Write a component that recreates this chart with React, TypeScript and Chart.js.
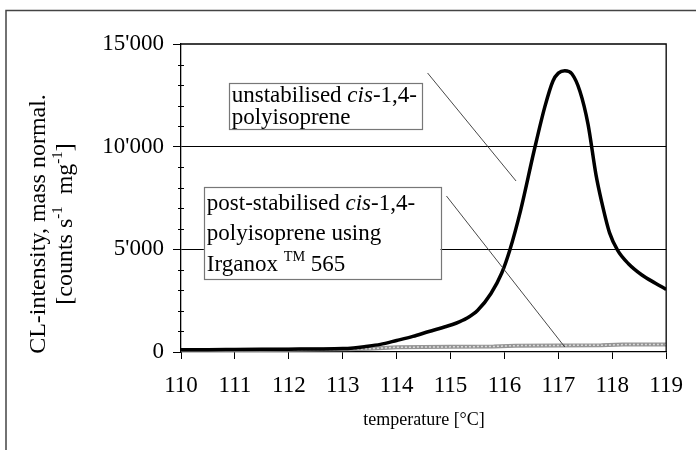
import React, { useEffect, useRef } from "react";
import { Chart, registerables } from "chart.js";

Chart.register(...registerables);

// Unstabilised cis-1,4-polyisoprene (black curve)
const tempsUnstab = [110, 110.5, 111, 111.5, 112, 112.5, 113, 113.2, 113.4, 113.7, 114, 114.3, 114.6, 114.9, 115.1, 115.3, 115.5, 115.75, 115.95, 116.1, 116.3, 116.55, 116.75, 116.9, 117.0, 117.12, 117.25, 117.4, 117.55, 117.7, 117.8, 117.95, 118.1, 118.3, 118.55, 118.8, 119.0];
const intensUnstab = [110, 110, 120, 130, 140, 150, 165, 200, 260, 370, 560, 760, 1000, 1230, 1400, 1640, 2020, 2850, 3850, 4970, 6900, 9800, 11950, 13200, 13580, 13700, 13550, 12700, 11100, 8600, 7350, 5800, 4950, 4300, 3750, 3350, 3050];

// Post-stabilised with Irganox 565 (grey curve)
const tempsStab = [110, 111, 112, 113, 113.5, 114, 115, 115.8, 116.2, 117, 117.8, 118.2, 119];
const intensStab = [90, 100, 110, 130, 160, 230, 250, 270, 310, 320, 330, 360, 370];

const xTicks = [110, 111, 112, 113, 114, 115, 116, 117, 118, 119];
const yMajorTicks = [0, 5000, 10000, 15000];

const FONT = '"Liberation Serif", "Times New Roman", serif';

type Part = { t: string; italic?: boolean; sup?: boolean };

function richWidth(ctx: CanvasRenderingContext2D, parts: Part[], size: number) {
  let w = 0;
  for (const p of parts) {
    const fs = p.sup ? size * 0.62 : size;
    ctx.font = `${p.italic ? "italic " : ""}${fs}px ${FONT}`;
    w += ctx.measureText(p.t).width;
  }
  return w;
}

function drawRich(ctx: CanvasRenderingContext2D, x: number, y: number, parts: Part[], size: number) {
  let cx = x;
  for (const p of parts) {
    const fs = p.sup ? size * 0.62 : size;
    ctx.font = `${p.italic ? "italic " : ""}${fs}px ${FONT}`;
    const dy = p.sup ? -size * 0.42 : 0;
    ctx.fillText(p.t, cx, y + dy);
    cx += ctx.measureText(p.t).width;
  }
}

const fmt = (v: number) => {
  const s = String(Math.round(v));
  return s.replace(/\B(?=(\d{3})+(?!\d))/g, "'");
};

const decorPlugin = {
  id: "decor",
  beforeDraw(chart: any) {
    const ctx = chart.ctx as CanvasRenderingContext2D;
    ctx.save();
    ctx.fillStyle = "#fff";
    ctx.fillRect(0, 0, chart.width, chart.height);
    ctx.strokeStyle = "#444";
    ctx.lineWidth = 1.5;
    ctx.beginPath();
    ctx.moveTo(6, chart.height + 5);
    ctx.lineTo(6, 10.5);
    ctx.lineTo(chart.width + 5, 10.5);
    ctx.stroke();
    ctx.restore();
  },
  afterDraw(chart: any) {
    const ctx = chart.ctx as CanvasRenderingContext2D;
    const xs = chart.scales.x;
    const ys = chart.scales.y;
    const a = chart.chartArea;
    ctx.save();
    ctx.strokeStyle = "#000";
    ctx.lineWidth = 1.3;
    ctx.beginPath();
    ctx.moveTo(a.left, a.top);
    ctx.lineTo(a.right, a.top);
    ctx.lineTo(a.right, a.bottom);
    ctx.stroke();
    ctx.lineWidth = 1;
    for (let v = ys.min; v <= ys.max; v += 1000) {
      if (v % 5000 === 0) continue;
      const py = Math.round(ys.getPixelForValue(v)) + 0.5;
      ctx.beginPath();
      ctx.moveTo(a.left - 3, py);
      ctx.lineTo(a.left + 3, py);
      ctx.stroke();
    }

    const P = (x: number, y: number) => [xs.getPixelForValue(x), ys.getPixelForValue(y)];
    ctx.strokeStyle = "#333";
    ctx.lineWidth = 0.9;
    const leaders = [
      [114.574, 13588, 116.215, 8328],
      [114.924, 7598, 117.119, 244],
    ];
    for (const l of leaders) {
      const [x1, y1] = P(l[0], l[1]);
      const [x2, y2] = P(l[2], l[3]);
      ctx.beginPath();
      ctx.moveTo(x1, y1);
      ctx.lineTo(x2, y2);
      ctx.stroke();
    }

    const boxes: { c: number[]; lines: Part[][]; lh: number; first: number }[] = [
      {
        c: [110.885, 13101, 114.463, 10861],
        lines: [
          [{ t: "unstabilised " }, { t: "cis", italic: true }, { t: "-1,4-" }],
          [{ t: "polyisoprene" }],
        ],
        lh: 22,
        first: 19,
      },
      {
        c: [110.424, 8036, 114.814, 3555],
        lines: [
          [{ t: "post-stabilised " }, { t: "cis", italic: true }, { t: "-1,4-" }],
          [{ t: "polyisoprene using" }],
          [{ t: "Irganox " }, { t: "TM", sup: true }, { t: " 565" }],
        ],
        lh: 30.5,
        first: 23,
      },
    ];
    for (const b of boxes) {
      const [x1, y1] = P(b.c[0], b.c[1]);
      const [x2, y2] = P(b.c[2], b.c[3]);
      ctx.fillStyle = "#fff";
      ctx.fillRect(x1, y1, x2 - x1, y2 - y1);
      ctx.strokeStyle = "#777";
      ctx.lineWidth = 1.2;
      ctx.strokeRect(Math.round(x1) + 0.5, Math.round(y1) + 0.5, Math.round(x2 - x1), Math.round(y2 - y1));
      ctx.fillStyle = "#000";
      ctx.textBaseline = "alphabetic";
      ctx.textAlign = "left";
      b.lines.forEach((ln, i) => drawRich(ctx, x1 + 3, y1 + b.first + i * b.lh, ln, 23));
    }

    const cy = 224;
    const ytitle: Part[][] = [
      [{ t: "CL-intensity, mass normal." }],
      [{ t: "[counts s" }, { t: "-1", sup: true }, { t: "  mg" }, { t: "-1", sup: true }, { t: "]" }],
    ];
    const colsX = [45, 72];
    ctx.fillStyle = "#000";
    ctx.textBaseline = "alphabetic";
    ytitle.forEach((ln, i) => {
      ctx.save();
      ctx.translate(colsX[i], cy);
      ctx.rotate(-Math.PI / 2);
      const w = richWidth(ctx, ln, 24);
      drawRich(ctx, -w / 2, 0, ln, 24);
      ctx.restore();
    });

    ctx.font = `18px ${FONT}`;
    ctx.textAlign = "center";
    ctx.fillText("temperature [°C]", 424, 425);
    ctx.restore();
  },
};

export default function App() {
  const ref = useRef<HTMLCanvasElement>(null);
  useEffect(() => {
    document.body.style.margin = "0";
    const canvas = ref.current!;
    const chart = new Chart(canvas, {
      type: "line",
      data: {
        datasets: [
          {
            label: "unstabilised",
            data: tempsUnstab.map((x, i) => ({ x, y: intensUnstab[i] })),
            borderColor: "#000",
            borderWidth: 3.5,
            pointRadius: 0,
            cubicInterpolationMode: "monotone",
            fill: false,
            order: 0,
          },
          {
            label: "post-stabilised",
            data: tempsStab.map((x, i) => ({ x, y: intensStab[i] })),
            borderColor: "#959595",
            borderWidth: 4,
            pointRadius: 0,
            fill: false,
            order: 2,
          },
          {
            label: "post-stabilised pattern",
            data: tempsStab.map((x, i) => ({ x, y: intensStab[i] })),
            borderColor: "#dadada",
            borderWidth: 1.5,
            borderDash: [2, 2],
            pointRadius: 0,
            fill: false,
            order: 1,
          },
        ],
      },
      options: {
        responsive: false,
        animation: false,
        layout: { padding: { top: 44, right: 27, left: 0, bottom: 0 } },
        plugins: { legend: { display: false }, tooltip: { enabled: false } },
        scales: {
          x: {
            type: "linear",
            min: 110,
            max: 119,
            afterBuildTicks: (s: any) => {
              s.ticks = xTicks.map((v) => ({ value: v }));
            },
            afterFit: (s: any) => {
              s.height = 98;
            },
            ticks: {
              font: { family: FONT, size: 23 },
              color: "#000",
              padding: 13,
              maxRotation: 0,
              autoSkip: false,
              callback: (v: any) => String(v),
            },
            grid: { drawOnChartArea: false, tickLength: 7, tickColor: "#000", lineWidth: 1 },
            border: { color: "#000", width: 1.3 },
          },
          y: {
            type: "linear",
            min: 0,
            max: 15000,
            afterBuildTicks: (s: any) => {
              s.ticks = yMajorTicks.map((v) => ({ value: v }));
            },
            afterFit: (s: any) => {
              s.width = 181;
            },
            ticks: {
              font: { family: FONT, size: 23 },
              color: "#000",
              padding: 9,
              callback: (v: any) => fmt(Number(v)),
            },
            grid: {
              tickLength: 8,
              tickColor: "#000",
              lineWidth: 1,
              color: (c: any) => (c.tick && (c.tick.value === 5000 || c.tick.value === 10000) ? "#000" : "rgba(0,0,0,0)"),
            },
            border: { color: "#000", width: 1.3 },
          },
        },
      },
      plugins: [decorPlugin],
    });
    return () => chart.destroy();
  }, []);
  return (
    <div style={{ position: "absolute", left: 0, top: 0, width: 696, height: 450 }}>
      <canvas ref={ref} width={696} height={450} />
    </div>
  );
}
